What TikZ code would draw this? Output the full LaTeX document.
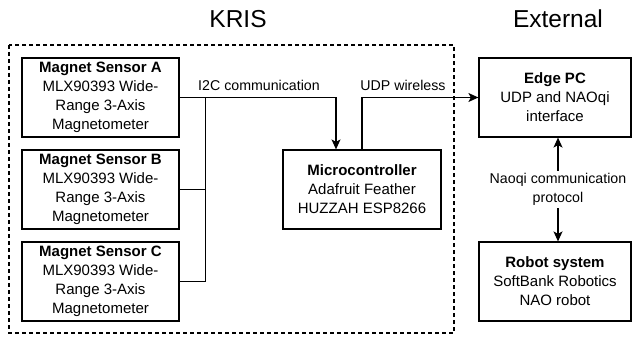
\documentclass[tikz,border=0pt]{standalone}
\usepackage{fontspec}
\setmainfont{Liberation Sans}
\usetikzlibrary{arrows.meta,calc}
\begin{document}
\begin{tikzpicture}[x=1pt,y=-1pt,
  box/.style={draw, line width=1.2pt, inner sep=0pt, minimum width=157pt, minimum height=79pt,
    align=center, font=\fontsize{15}{18.9}\selectfont},
  lbl/.style={inner sep=1pt, align=center, font=\fontsize{14.2}{19}\selectfont},
  ttl/.style={inner sep=0pt, font=\fontsize{24.5}{28}\selectfont},
  conn/.style={line width=1.2pt},
  arr/.style={conn, -{Stealth[length=10pt,width=9pt,inset=2.5pt]}},
  darr/.style={conn, {Stealth[length=10pt,width=9pt,inset=2.5pt]}-{Stealth[length=10pt,width=9pt,inset=2.5pt]}}]
\useasboundingbox (0,0) rectangle (632,337);
\node[ttl] (kris) at (238,19) {KRIS};
\node[ttl] (ext) at (558,19) {External};
\draw[line width=1.1pt, dash pattern=on 4pt off 3pt] (9,45) rectangle (454,333);
\node[box] (A) at (100.5,97.5) {\textbf{Magnet Sensor A}\\MLX90393 Wide-\\Range 3-Axis\\Magnetometer};
\node[box] (B) at (100.5,189.5) {\textbf{Magnet Sensor B}\\MLX90393 Wide-\\Range 3-Axis\\Magnetometer};
\node[box] (C) at (100.5,281.5) {\textbf{Magnet Sensor C}\\MLX90393 Wide-\\Range 3-Axis\\Magnetometer};
\node[box, minimum width=158pt] (M) at (362,189.5) {\textbf{Microcontroller}\\Adafruit Feather\\HUZZAH ESP8266};
\node[box, minimum width=152pt] (E) at (555,97.5) {\textbf{Edge PC}\\UDP and NAOqi\\interface};
\node[box, minimum width=152pt] (R) at (555,281.5) {\textbf{Robot system}\\SoftBank Robotics\\NAO robot};
\coordinate (bus) at ($(A.east)+(26,0)$);
\coordinate (min) at ($(M.north)+(-26,0)$);
\draw[conn] (bus) |- (C.east);
\draw[conn] (B.east) -- (B.east -| bus);
\draw[arr] (A.east) -| (min);
\draw[arr] (M.north) |- (E.west);
\node[lbl, anchor=base] (i2c) at (259,91) {I2C communication};
\node[lbl, anchor=base] (udp) at (403,91) {UDP wireless};
\draw[darr] ($(E.south)+(3,0)$) -- node[lbl, fill=white, inner sep=2pt] (nq) {Naoqi communication\\protocol} ($(R.north)+(3,0)$);
\end{tikzpicture}
\end{document}
